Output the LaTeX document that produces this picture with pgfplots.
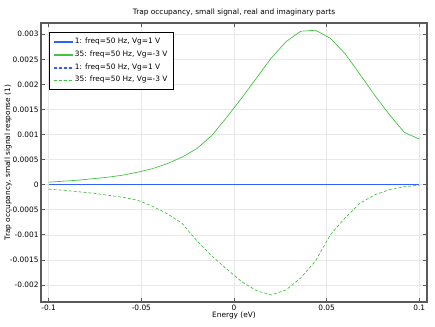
\documentclass[border=0pt]{standalone}
\usepackage{pgfplots}
\pgfplotsset{compat=1.18}
\usetikzlibrary{shadows}
\usepackage{fontspec}
\setmainfont{DejaVu Sans}
\definecolor{cblue}{RGB}{50,95,255}
\definecolor{cgreen}{RGB}{70,195,70}
\definecolor{cgrid}{RGB}{232,232,232}
\definecolor{cframe}{RGB}{90,90,90}
\newcommand{\fs}{\fontsize{7.4bp}{8.5bp}\selectfont}
\begin{document}
\begin{tikzpicture}
\begin{axis}[
  at={(0,0)}, anchor=south west,
  scale only axis, width=386bp, height=279bp,
  xmin=-0.10416, xmax=0.10416,
  ymin=-0.002339, ymax=0.003224,
  xtick={-0.1,-0.05,0,0.05,0.1},
  xticklabels={-0.1,-0.05,0,0.05,0.1},
  ytick={-0.002,-0.0015,-0.001,-0.0005,0,0.0005,0.001,0.0015,0.002,0.0025,0.003},
  yticklabels={-0.002,-0.0015,-0.001,-0.0005,0,0.0005,0.001,0.0015,0.002,0.0025,0.003},
  scaled y ticks=false, scaled x ticks=false,
  tick align=inside, tick pos=both,
  major tick length=4bp,
  tick style={cframe, line width=0.8pt},
  axis line style={cframe, line width=1.1pt},
  grid=major, grid style={cgrid, line width=0.6pt},
  tick label style={font=\fs, text=black},
  xticklabel style={yshift=1bp},
  yticklabel style={xshift=1bp},
  label style={font=\fs},
  xlabel={Energy (eV)},
  xlabel style={yshift=5bp},
  ylabel={Trap occupancy, small signal response (1)},
  every axis y label/.style={at={([xshift=-33bp]axis description cs:0,0.5)}, rotate=90, anchor=center, font=\fs},
  title={Trap occupancy, small signal, real and imaginary parts},
  title style={font=\fs, yshift=-3bp},
  legend style={at={(0.0207,0.968)}, anchor=north west,
    font=\fs, draw=black, line width=0.6pt,
    drop shadow={shadow xshift=0.9pt, shadow yshift=-0.9pt, fill=black!75, opacity=1},
    row sep=1.6pt, inner xsep=4pt, inner ysep=4pt},
  legend cell align=left,
  legend image code/.code={\draw[#1, line width=0.6pt] (0bp,0bp) -- (19bp,0bp);},
]
\addplot[cblue, line width=0.7pt] coordinates {
(-0.1,0) (-0.092,0) (-0.084,0) (-0.076,0) (-0.068,0) (-0.06,0) (-0.052,0) (-0.044,0) (-0.036,0) (-0.028,0) (-0.02,0) (-0.012,0) (-0.004,0) (0.004,0) (0.012,0) (0.02,0) (0.028,0) (0.036,0) (0.044,0) (0.052,0) (0.06,0) (0.068,0) (0.076,0) (0.084,0) (0.092,0) (0.1,0)};
\addlegendentry{\fs 1: freq=50 Hz, Vg=1 V}
\addplot[cgreen, line width=0.7pt] coordinates {
(-0.1,0.00005) (-0.092,0.00007) (-0.084,0.00009) (-0.076,0.00012) (-0.068,0.00015) (-0.06,0.00019) (-0.052,0.00025) (-0.044,0.00032) (-0.036,0.00042) (-0.028,0.00055) (-0.02,0.00072) (-0.012,0.00098) (-0.004,0.00134) (0.004,0.00172) (0.012,0.00212) (0.02,0.00252) (0.028,0.00285) (0.036,0.00306) (0.044,0.00308) (0.052,0.00292) (0.06,0.00261) (0.068,0.00220) (0.076,0.00178) (0.084,0.00139) (0.092,0.00104) (0.1,0.00091)};
\addlegendentry{\fs 35: freq=50 Hz, Vg=-3 V}
\addplot[cblue, line width=0.7pt, dash pattern=on 3pt off 2pt] coordinates {
(-0.1,0) (-0.092,0) (-0.084,0) (-0.076,0) (-0.068,0) (-0.06,0) (-0.052,0) (-0.044,0) (-0.036,0) (-0.028,0) (-0.02,0) (-0.012,0) (-0.004,0) (0.004,0) (0.012,0) (0.02,0) (0.028,0) (0.036,0) (0.044,0) (0.052,0) (0.06,0) (0.068,0) (0.076,0) (0.084,0) (0.092,0) (0.1,0)};
\addlegendentry{\fs 1: freq=50 Hz, Vg=1 V}
\addplot[cgreen, line width=0.7pt, dash pattern=on 3pt off 2pt] coordinates {
(-0.1,-0.00009) (-0.092,-0.00011) (-0.084,-0.00014) (-0.076,-0.00017) (-0.068,-0.00021) (-0.06,-0.00025) (-0.052,-0.00031) (-0.044,-0.00043) (-0.036,-0.00058) (-0.028,-0.00077) (-0.02,-0.00112) (-0.012,-0.00142) (-0.004,-0.00168) (0.004,-0.00193) (0.012,-0.00211) (0.02,-0.00220) (0.028,-0.00210) (0.036,-0.00186) (0.044,-0.00152) (0.052,-0.00100) (0.06,-0.00066) (0.068,-0.00037) (0.076,-0.00020) (0.084,-0.00010) (0.092,-0.00004) (0.1,-0.00001)};
\addlegendentry{\fs 35: freq=50 Hz, Vg=-3 V}
\end{axis}
\pgfresetboundingbox
\path[use as bounding box] (-41bp,-25bp) rectangle (394bp,302bp);
\end{tikzpicture}
\end{document}
